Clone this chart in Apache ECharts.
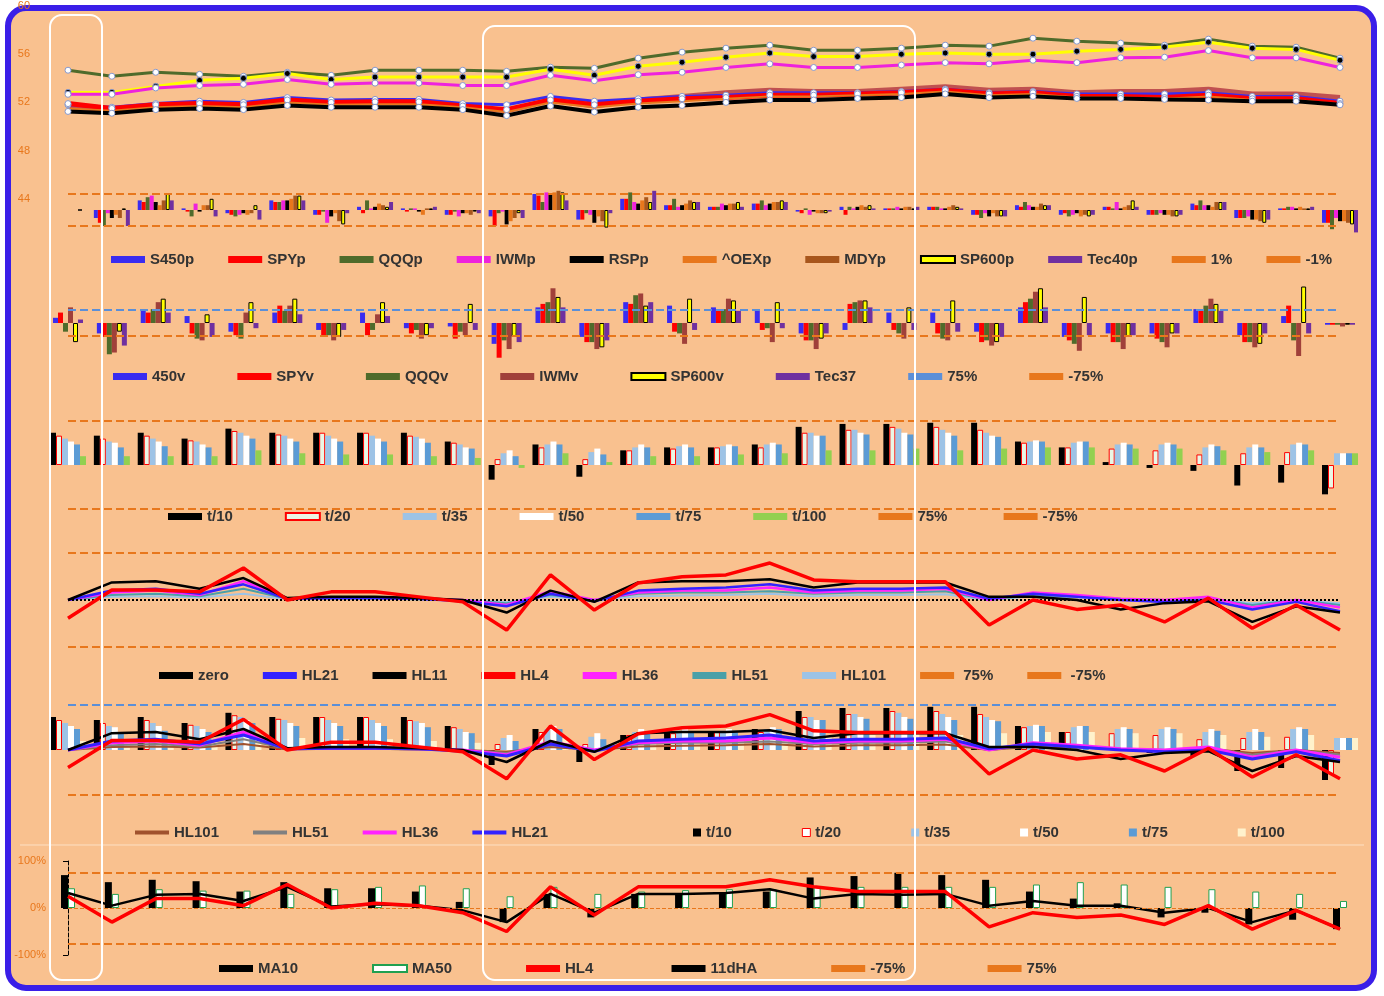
<!DOCTYPE html>
<html><head><meta charset="utf-8">
<script src="https://cdn.jsdelivr.net/npm/echarts@6/dist/echarts.min.js"></script>
<style>html,body{margin:0;padding:0;background:#fff}#c{width:1384px;height:996px}</style>
</head><body><div id="c"></div>
<script>
const categories = ['1','2','3','4','5','6','7','8','9','10','11','12','13','14','15','16','17','18','19','20','21','22','23','24','25','26','27','28','29','30'];
// Panel 1 lines
const QQQp = [54.67,54.17,54.5,54.33,54.17,54.5,54.25,54.67,54.67,54.67,54.58,54.92,54.83,55.67,56.17,56.5,56.75,56.33,56.33,56.5,56.75,56.67,57.33,57.08,56.92,56.75,57.25,56.67,56.58,55.67];
const SP600p = [52.83,52.83,53.33,53.83,54,54.4,53.9,54.1,54.1,54.1,54.1,54.75,54.25,55,55.33,55.75,56.1,55.8,55.8,56,56.1,56,56,56.25,56.4,56.6,57,56.5,56.4,55.5];
const IWMp = [52.67,52.67,53.2,53.4,53.5,53.9,53.5,53.6,53.6,53.4,53.4,54.25,53.8,54.3,54.5,54.9,55.2,54.9,54.9,55.1,55.3,55.2,55.5,55.3,55.7,55.75,56.3,55.7,55.7,54.9];
const S450p = [51.8,51.6,51.9,52.1,52,52.4,52.2,52.25,52.25,51.9,51.8,52.5,52.1,52.3,52.5,52.6,52.8,52.8,52.8,52.9,53.1,52.8,52.9,52.7,52.7,52.7,52.8,52.5,52.5,52.1];
const SPYp = [51.9,51.5,51.8,51.9,51.8,52.2,52,52.05,52.05,51.7,51.4,52.2,51.8,52.1,52.3,52.4,52.6,52.6,52.7,52.8,53,52.7,52.8,52.5,52.5,52.4,52.6,52.3,52.3,51.9];
const MDYp = [51.7,51.3,51.7,51.8,51.7,52.2,51.9,52,52,51.7,51.3,52.2,51.7,52.2,52.5,52.8,53,52.9,52.9,53.1,53.3,53,53.1,52.8,52.9,52.9,53.1,52.7,52.7,52.4];
const RSPp = [51.25,51.1,51.4,51.5,51.4,51.75,51.6,51.6,51.6,51.4,50.9,51.7,51.2,51.6,51.75,52,52.2,52.2,52.33,52.4,52.7,52.4,52.5,52.33,52.33,52.25,52.2,52.1,52.1,51.8];
const OEXp = [51.5,51.3,51.6,51.7,51.6,52,51.8,51.85,51.85,51.6,51.2,52,51.6,51.9,52.1,52.3,52.5,52.5,52.6,52.7,52.9,52.6,52.7,52.4,52.4,52.3,52.5,52.2,52.2,51.85];
// Panel 1 bars (% change)
const S450b = [0,-0.5,0.6,0.1,-0.2,0.6,-0.3,0.2,0.1,-0.3,-0.4,1.0,-0.6,0.7,0.3,0.2,0.4,-0.1,0.2,0.1,0.2,-0.3,0.3,-0.3,0.2,-0.3,0.4,-0.5,0.1,-0.8];
const SPYb = [0,-0.8,0.5,-0.1,-0.3,0.5,-0.3,-0.2,-0.1,-0.3,-1.0,0.9,-0.6,0.7,0.3,0.2,0.4,-0.2,-0.3,0.1,0.2,-0.3,0.2,-0.2,0.2,-0.3,0.3,-0.5,0.1,-0.8];
const QQQb = [0,-1.0,0.8,-0.4,-0.4,0.5,-0.1,0.6,0.1,-0.1,-0.2,0.5,-0.2,1.1,0.7,0.2,0.6,0.1,0.2,0.1,0.2,-0.5,0.5,-0.4,0.1,-0.3,0.6,-0.5,0.2,-1.2];
const IWMb = [0,-0.2,0.9,0.4,-0.3,0.6,-0.8,0.1,0.1,-0.4,-0.1,1.1,-0.3,0.5,0.2,0.4,0.3,-0.3,0.1,0.2,0.1,-0.2,0.3,-0.3,0.5,-0.2,0.3,-0.4,0.2,-0.5];
const RSPb = [0,-0.5,0.5,-0.1,-0.2,0.6,-0.4,0.2,-0.1,-0.2,-0.9,1.0,-0.8,0.4,0.3,0.3,0.4,-0.1,0.2,0.1,0.1,-0.4,0.2,-0.2,0.1,-0.3,0.3,-0.6,0.1,-0.7];
const OEXb = [0,-0.3,0.3,0.3,-0.3,0.7,-0.2,0.4,-0.3,-0.2,-0.7,1.1,-0.4,0.6,0.4,0.4,0.5,-0.2,0.3,0.2,0.2,-0.2,0.2,-0.4,0.2,-0.3,0.2,-0.6,0.2,-0.7];
const MDYb = [0,-0.5,0.6,0.3,-0.2,0.9,-0.7,0.3,0.1,-0.3,-0.5,1.2,-0.7,0.8,0.6,0.4,0.5,-0.2,0.2,0.2,0.3,-0.4,0.4,-0.3,0.3,-0.4,0.5,-0.7,0.1,-0.8];
const SP600b = [0,0.1,1.0,0.7,0.3,0.9,-0.9,0.2,0.1,-0.1,-0.2,1.1,-1.1,0.5,0.5,0.5,0.6,-0.2,0.3,0.1,0.2,-0.4,0.3,-0.4,0.6,-0.4,0.5,-0.8,0.1,-0.9];
const Tec40b = [0,-1.0,0.6,-0.4,-0.6,0.6,-0.2,0.5,0.2,-0.2,-0.5,0.6,-0.2,1.2,0.5,0.2,0.5,-0.1,0.1,0.2,0.1,-0.4,0.3,-0.3,0.2,-0.3,0.5,-0.6,0.2,-1.4];
// Panel 2 volume
const v450 = [30,-60,80,40,-50,60,-40,60,-30,-20,-120,90,-80,120,100,90,70,-60,-40,60,60,-50,90,-80,-60,-60,80,-70,40,-10];
const vSPY = [60,-80,60,-60,-70,100,-70,-70,-60,-90,-200,110,-110,110,-50,80,-40,-100,110,-40,-60,-110,120,-100,-110,-90,70,-110,100,-10];
const vQQQ = [-50,-180,80,-90,-90,70,-70,-40,-40,-50,-100,120,-110,160,-60,80,-30,-100,120,-60,-90,-100,140,-120,-110,-110,100,-110,-100,-10];
const vIWM = [90,-170,120,-100,60,100,-100,50,-90,-70,-150,200,-150,170,-120,140,-110,-150,130,-90,-100,-130,180,-160,-150,-140,140,-140,-190,-20];
const vSP600 = [-110,-50,140,50,120,140,-80,120,-70,110,-80,150,-140,100,140,130,120,-90,130,90,130,-110,200,150,-80,-60,110,-120,210,-10];
const vTec37 = [20,-130,60,-80,-30,50,-40,40,-30,-40,-110,90,-100,120,-40,70,-30,-60,90,-40,-50,-80,90,-70,-70,-60,70,-60,-60,-10];
// Panel 3 breadth
const t10 = [55,50,55,45,62,55,55,55,55,40,-25,35,-20,25,30,30,35,65,70,70,72,72,40,30,5,-5,-10,-35,-30,-50];
const t20 = [50,45,50,42,58,52,55,55,50,38,10,30,10,25,28,30,30,55,60,65,65,60,38,30,28,25,18,20,22,-40];
const t35 = [45,40,45,40,55,50,50,50,48,35,20,35,22,30,32,32,35,55,60,62,60,55,40,38,35,35,30,30,35,20];
const t50 = [40,38,40,35,50,45,45,45,45,30,25,40,28,35,35,35,38,50,55,55,55,50,42,40,38,38,35,35,38,20];
const t75 = [35,30,32,30,45,40,40,40,38,28,15,35,18,30,30,32,35,50,52,52,50,48,40,40,35,35,32,30,35,20];
const t100 = [15,15,15,15,25,20,18,18,15,12,-5,20,5,15,15,18,20,25,25,28,25,28,30,30,28,28,25,22,25,20];
// Panel 4 HL
const HL4 = [-29,16,16,13,51,0,13,13,5,-3,-48,40,-16,27,37,40,59,32,29,29,29,-40,0,-15,-8,-35,3,-45,-8,-48];
const HL11 = [0,28,30,18,35,3,5,5,3,0,-20,15,-3,28,30,30,33,20,28,28,28,5,5,0,-15,-5,-2,-35,-10,-20];
const HL21 = [0,15,18,10,25,2,3,3,2,-2,-10,10,-2,15,18,20,25,15,18,18,20,2,10,5,0,-3,0,-15,-3,-18];
const HL36 = [0,12,15,8,30,2,3,3,2,0,-8,14,0,12,15,15,20,12,15,15,18,0,12,8,2,0,5,-12,0,-12];
const HL51 = [0,8,10,6,18,2,2,2,1,0,-5,8,0,10,12,12,14,10,12,12,14,0,8,5,2,0,3,-8,0,-8];
const HL101 = [0,5,6,4,10,1,2,2,1,0,-3,5,0,6,7,8,10,6,8,8,9,0,6,4,1,0,2,-5,0,-5];
// Panel 6
const MA10 = [70,55,60,57,35,55,42,42,35,13,-30,30,-20,30,30,30,35,65,68,75,70,60,35,20,10,-20,-10,-35,-25,-45];
const MA50 = [42,30,40,37,37,30,40,45,48,42,25,45,30,35,38,40,40,45,45,45,45,45,50,55,50,45,40,35,30,15];
const HL4b = [25,-30,20,20,5,50,0,10,5,-10,-50,45,-15,45,45,45,60,45,35,35,35,-40,-10,-20,-15,-35,5,-45,-5,-45];
const dHA11 = [32,5,28,30,15,45,3,8,5,-5,-30,30,-10,30,30,32,40,20,30,28,30,5,15,5,5,-10,0,-30,-5,-45];

const C = {S450:'#3a2cf0',SPY:'#ff0000',QQQ:'#4f6b2b',IWM:'#ee22dd',RSP:'#000000',OEX:'#e8771c',MDY:'#a8561c',SP600:'#ffff00',Tec:'#7030a0',dash:'#e8771c'};
const LW = 2.5;
function xa(i){return {type:'category',gridIndex:i,data:categories,boundaryGap:false,show:false};}
function ya(i,min,max,extra){return Object.assign({type:'value',gridIndex:i,min:min,max:max,splitLine:{show:false},axisLine:{show:false},axisTick:{show:false},axisLabel:{show:false}},extra||{});}
function line(name,data,color,xi,w,z,extra){return Object.assign({name,type:'line',data,xAxisIndex:xi,yAxisIndex:xi,symbol:'none',lineStyle:{color,width:w||LW},itemStyle:{color},z:z||3},extra||{});}
function bar(name,data,color,xi,extra){return Object.assign({name,type:'bar',data,xAxisIndex:xi,yAxisIndex:xi,barWidth:5,barGap:'0%',clip:false,itemStyle:{color},z:2},extra||{});}
function ref(name,xi,vals,type){return {name,type:'line',data:[],xAxisIndex:xi,yAxisIndex:xi,symbol:'none',lineStyle:{color:type==='dotted'?'#000':C.dash,type:type||'dashed',width:2},itemStyle:{color:type==='dotted'?'#000':C.dash},
 markLine:{silent:true,symbol:'none',label:{show:false},lineStyle:{color:type==='dotted'?'#000':C.dash,type:type||'dashed',width:2},data:vals.map(v=>({yAxis:v}))}};}
const dots = (fill)=>({symbol:'circle',symbolSize:6,showSymbol:true,itemStyle:{color:fill,borderColor:'#8899cc',borderWidth:1}});

const grids = [
 {left:68,right:44,top:6,height:241},
 {left:68,right:44,top:160,height:100},
 {left:68,right:44,top:290,height:66},
 {left:68,right:44,top:400,height:130},
 {left:68,right:44,top:540,height:120},
 {left:68,right:44,top:690,height:120},
 {left:68,right:44,top:861,height:94}
];
const lt = {fontSize:15,fontWeight:'bold',color:'#333',fontFamily:'Arial, Liberation Sans'};
function lg(top,data,gap,left){return {top,left:left||100,icon:'rect',itemWidth:34,itemHeight:7,itemGap:gap,textStyle:lt,data,selectedMode:false};}
const dl = (name,color)=>({name,icon:'rect',itemStyle:{color,borderWidth:0}});

const series = [
 bar('S450p',S450b,C.S450,1,{barWidth:4}),bar('SPYp',SPYb,C.SPY,1,{barWidth:4}),bar('QQQp',QQQb,C.QQQ,1,{barWidth:4}),bar('IWMp',IWMb,C.IWM,1,{barWidth:4}),
 bar('RSPp',RSPb,C.RSP,1,{barWidth:4}),bar('^OEXp',OEXb,C.OEX,1,{barWidth:4}),bar('MDYp',MDYb,C.MDY,1,{barWidth:4}),
 bar('SP600p',SP600b,C.SP600,1,{barWidth:4,itemStyle:{color:C.SP600,borderColor:'#000',borderWidth:1}}),bar('Tec40p',Tec40b,C.Tec,1,{barWidth:4}),
 ref('1%',1,[1]),ref('-1%',1,[-1]),
 line('QQQp',QQQp,C.QQQ,0,3,4,dots('#fff')),line('SP600p',SP600p,C.SP600,0,3,4,dots('#000')),line('IWMp',IWMp,C.IWM,0,3,4,dots('#fff')),
 line('MDYp',MDYp,'#c05050',0,5,4),line('S450p',S450p,C.S450,0,3,4,dots('#fff')),line('SPYp',SPYp,C.SPY,0,5,4,dots('#fff')),
 line('^OEXp',OEXp,C.OEX,0,2,4),line('RSPp',RSPp,C.RSP,0,4,4,dots('#fff')),
 bar('450v',v450,C.S450,2),bar('SPYv',vSPY,C.SPY,2),bar('QQQv',vQQQ,C.QQQ,2),bar('IWMv',vIWM,'#a0403a',2),
 bar('SP600v',vSP600,C.SP600,2,{itemStyle:{color:C.SP600,borderColor:'#000',borderWidth:1}}),bar('Tec37',vTec37,C.Tec,2),
 Object.assign(ref('75%',2,[75]),{lineStyle:{color:'#5b8fd8',type:'dashed',width:2},itemStyle:{color:'#5b8fd8'},markLine:{silent:true,symbol:'none',label:{show:false},lineStyle:{color:'#5b8fd8',type:'dashed',width:2},data:[{yAxis:75}]}}),
 ref('-75%',2,[-75]),
 bar('t/10',t10,'#000',3,{barWidth:6}),bar('t/20',t20,'#e8f5e0',3,{barWidth:6,itemStyle:{color:'#eaf6e4',borderColor:'#ff0000',borderWidth:1}}),
 bar('t/35',t35,'#9dc3e6',3,{barWidth:6}),bar('t/50',t50,'#ffffff',3,{barWidth:6}),bar('t/75',t75,'#5b9bd5',3,{barWidth:6}),bar('t/100',t100,'#92d050',3,{barWidth:6}),
 ref('75% ',3,[75]),ref('-75% ',3,[-75]),
 ref('zero',4,[0],'dotted'),
 line('HL101',HL101,'#9dc3e6',4,2,3),line('HL51',HL51,'#4aa0a8',4,2,3),line('HL36',HL36,'#ff22ff',4,2.5,3),
 line('HL21',HL21,'#3322ff',4,2.5,3),line('HL11',HL11,'#000',4,2.5,4),line('HL4',HL4,'#ff0000',4,3.5,5),
 ref(' 75%',4,[75]),ref(' -75%',4,[-75]),
 bar('t/10',t10,'#000',5,{barWidth:6}),bar('t/20',t20,'#eaf6e4',5,{barWidth:6,itemStyle:{color:'#eaf6e4',borderColor:'#ff0000',borderWidth:1}}),
 bar('t/35',t35,'#9dc3e6',5,{barWidth:6}),bar('t/50',t50,'#ffffff',5,{barWidth:6}),bar('t/75',t75,'#5b9bd5',5,{barWidth:6}),bar('t/100',t100,'#fff2cc',5,{barWidth:6}),
 line('HL101',HL101,'#a0522d',5,2,3),line('HL51',HL51,'#808080',5,2,3),line('HL36',HL36,'#ff22ff',5,3,3),line('HL21',HL21,'#3322ff',5,3,3),
 line('HL11',HL11,'#000',5,2.5,4),line('HL4',HL4,'#ff0000',5,3.5,5),
 ref('p5a',5,[75,-75]),
 bar('MA10',MA10,'#000',6,{barWidth:7,barGap:'60%'}),bar('MA50',MA50,'#fff',6,{barWidth:7,itemStyle:{color:'#fff',borderColor:'#20a050',borderWidth:1}}),
 line('HL4 ',HL4b,'#ff0000',6,3.5,5),line('11dHA',dHA11,'#000',6,2.5,4),
 ref('-75%  ',6,[-75]),ref('75%  ',6,[75]),
 Object.assign(ref('p6z',6,[0]),{markLine:{silent:true,symbol:'none',label:{show:false},lineStyle:{color:C.dash,type:'dashed',width:1},data:[{yAxis:0}]}})
];
series.find(s=>s.name==='p5a').markLine.data=[{yAxis:75,lineStyle:{color:'#5b8fd8'}},{yAxis:-75}];

const opt = {
 animation:false,
 backgroundColor:'#ffffff',
 grid:grids,
 xAxis:[0,1,2,3,4,5,6].map(xa),
 yAxis:[
  ya(0,40,60,{interval:4,axisLabel:{show:true,color:'#e8771c',fontSize:11,showMinLabel:false,margin:38}}),
  ya(1,-3.125,3.125),ya(2,-190,190),ya(3,-110.8,110.8),ya(4,-95.7,95.7),ya(5,-100,100),
  ya(6,-100,100,{interval:100,axisLabel:{show:true,color:'#e8771c',fontSize:11,margin:22,formatter:v=>v+'%'},axisLine:{show:true,lineStyle:{color:'#000',type:'dashed'}},axisTick:{show:true}})
 ],
 legend:[
  lg(247,['S450p','SPYp','QQQp','IWMp','RSPp','^OEXp','MDYp','SP600p','Tec40p','1%','-1%'],34,106),
  lg(364,['450v','SPYv','QQQv','IWMv','SP600v','Tec37','75%','-75%'],52,108),
  lg(504,['t/10','t/20','t/35','t/50','t/75','t/100','75% ','-75% '],52,163),
  lg(663,['zero','HL21','HL11','HL4','HL36','HL51','HL101',' 75%',' -75%'],34,154),
  {top:820,left:130,icon:'rect',itemWidth:34,itemHeight:4,itemGap:34,textStyle:lt,selectedMode:false,
   data:[dl('HL101','#a0522d'),dl('HL51','#808080'),dl('HL36','#ff22ff'),dl('HL21','#3322ff')]},
  {top:820,left:688,icon:'rect',itemWidth:8,itemHeight:8,itemGap:70,textStyle:lt,selectedMode:false,
   data:[dl('t/10','#000'),{name:'t/20',itemStyle:{color:'#fff',borderColor:'#ff0000',borderWidth:1}},dl('t/35','#9dc3e6'),dl('t/50','#fff'),dl('t/75','#5b9bd5'),dl('t/100','#fff2cc')]},
  lg(956,['MA10','MA50','HL4 ','11dHA','-75%  ','75%  '],74,214)
 ],
 graphic:[
  {type:'rect',z:-10,shape:{x:8,y:8,width:1366,height:980,r:18},style:{fill:'#f9c18f',stroke:'#3a1ee8',lineWidth:6}},
  {type:'rect',z:100,silent:true,shape:{x:50,y:15,width:52,height:965,r:12},style:{fill:'none',stroke:'#ffffff',lineWidth:2}},
  {type:'rect',z:100,silent:true,shape:{x:483,y:26,width:432,height:954,r:12},style:{fill:'none',stroke:'#ffffff',lineWidth:2}},
  {type:'line',z:1,shape:{x1:20,y1:845,x2:1364,y2:845},style:{stroke:'#fde0c4',lineWidth:1}}
 ],
 series
};
echarts.init(document.getElementById('c')).setOption(opt);
</script></body></html>
